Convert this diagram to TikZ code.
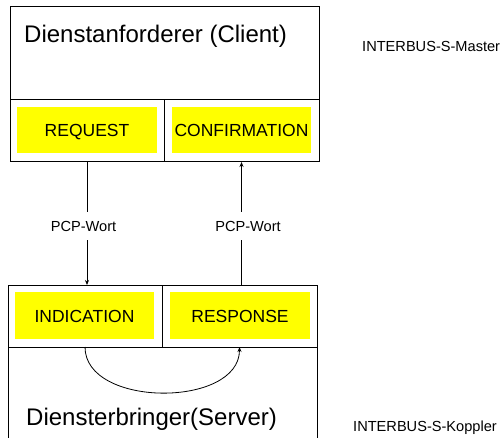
\documentclass[tikz,border=0pt]{standalone}
\usepackage{fontspec}
\setmainfont{Liberation Sans}
\usetikzlibrary{arrows.meta}
\definecolor{hilite}{HTML}{FFFF00}
\begin{document}
\begin{tikzpicture}[x=1pt,y=-1pt,
  frame/.style={draw=black,line width=1pt},
  cellbox/.style={draw=black,line width=1pt,inner sep=0pt,outer sep=0pt,minimum height=62pt},
  service/.style={fill=hilite,inner sep=0pt,outer sep=0pt,minimum width=140pt,minimum height=46pt,
    text height=14pt,text depth=0pt,font=\fontsize{17.5}{20}\selectfont},
  title/.style={anchor=base west,inner sep=0pt,font=\fontsize{24}{28}\selectfont},
  small/.style={anchor=base west,inner sep=0pt,font=\fontsize{14.6}{17}\selectfont},
  wordlabel/.style={fill=white,inner xsep=0pt,inner ysep=9pt,font=\fontsize{14.6}{17}\selectfont},
  flow/.style={line width=1pt,-{Stealth[length=5pt,width=4pt]}},
  loop/.style={line width=0.8pt,-{Stealth[length=5pt,width=4pt]}}]
\useasboundingbox (0,0) rectangle (503,438);

% client (service requester)
\node[frame,inner sep=0pt,minimum width=309pt,minimum height=155pt] (client) at (164.5,84.5) {};
\node[cellbox,minimum width=154pt] (reqcell) at (87,131) {};
\node[cellbox,minimum width=155pt] (confcell) at (241.5,131) {};
\node[service] (req) at (87,130) {REQUEST};
\node[service,minimum width=139pt] (conf) at (241.5,130) {CONFIRMATION};
\node[title] (clienttitle) at (24,42.7) {Dienstanforderer (Client)};
\node[small] (master) at (362,51.5) {INTERBUS-S-Master};

% server (service provider), open at the lower edge
\draw[frame] (8,440) |- (317,285) -- (317,440);
\node[cellbox,minimum width=154pt] (indcell) at (85,316) {};
\node[cellbox,minimum width=155pt] (respcell) at (239.5,316) {};
\node[service,minimum width=139pt,minimum height=47pt] (ind) at (84.5,315.5) {INDICATION};
\node[service,minimum height=47pt] (resp) at (240,315.5) {RESPONSE};
\node[title] (servertitle) at (26,425.5) {Diensterbringer(Server)};
\node[small] (koppler) at (353,431) {INTERBUS-S-Koppler};

% PCP words exchanged between the two sides
\draw[flow] (reqcell.south) -- (reqcell.south |- indcell.north);
\draw[flow] (confcell.south |- respcell.north) -- (confcell.south);
\node[wordlabel] (pcpdown) at (83.5,226) {PCP-Wort};
\node[wordlabel] (pcpup) at (248,226) {PCP-Wort};

% local processing from indication to response
\draw[loop] (indcell.south) .. controls +(0,61) and +(0,61) .. (respcell.south);
\end{tikzpicture}
\end{document}
